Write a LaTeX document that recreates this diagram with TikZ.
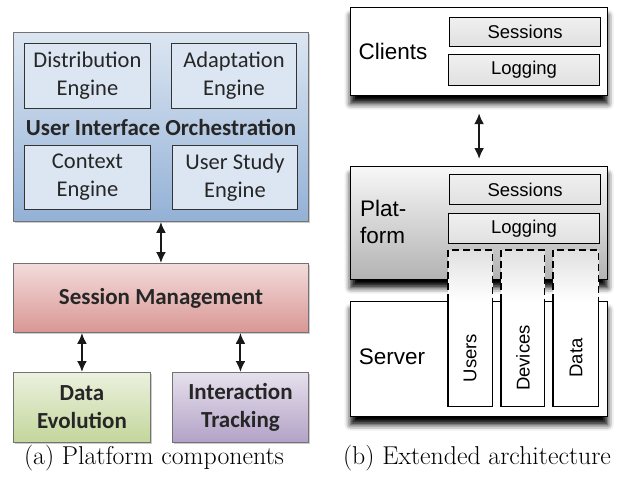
\documentclass[tikz,border=0pt]{standalone}
\usepackage{fontspec}
\newfontfamily\calfont{Carlito}
\newfontfamily\arialfont{Liberation Sans}
\usetikzlibrary{shadows,shadows.blur,arrows.meta}
\definecolor{blueTop}{HTML}{DCE6F2}
\definecolor{blueBot}{HTML}{93B1D6}
\definecolor{engFill}{HTML}{DCE6F2}
\definecolor{redTop}{HTML}{F2DCDB}
\definecolor{redBot}{HTML}{D99694}
\definecolor{greenTop}{HTML}{EBF1DE}
\definecolor{greenBot}{HTML}{C3D69B}
\definecolor{purpTop}{HTML}{E6E0EC}
\definecolor{purpBot}{HTML}{B3A2C7}
\tikzset{
  dbl/.style={{Latex[length=11pt,width=10pt]}-{Latex[length=11pt,width=10pt]}, line width=2pt, black!90},
  lbox/.style={draw=black!55, line width=0.9pt, anchor=north west, inner sep=0pt, align=center,
    drop shadow={shadow xshift=1.5pt, shadow yshift=-1.5pt, opacity=0.4},
    font=\calfont\bfseries\fontsize{23}{28}\selectfont, text=black!85},
  eng/.style={draw=black!80, line width=0.9pt, fill=engFill, anchor=north west, inner sep=0pt,
    align=center, font=\calfont\fontsize{22.5}{28}\selectfont, text=black!85},
  rbox/.style={draw=black, line width=1.2pt, fill=white, anchor=north west, inner sep=0pt,
    blur shadow={shadow xshift=0pt, shadow yshift=-8pt, shadow blur radius=6pt, shadow opacity=100}},
  sbox/.style={draw=black, line width=1.1pt, top color=black!6, bottom color=black!12, anchor=north west,
    inner sep=0pt, font=\arialfont\fontsize{18.5}{22}\selectfont},
  rlabel/.style={font=\arialfont\fontsize{22.5}{27}\selectfont, inner sep=0pt},
  collabel/.style={font=\arialfont\fontsize{18.5}{22}\selectfont, rotate=90, inner sep=0pt},
  colbox/.style={fill=white, draw=none, anchor=north west, inner sep=0pt, minimum height=156pt},
  captext/.style={font=\fontsize{25.8}{30}\selectfont, inner sep=0pt}
}
\begin{document}
\begin{tikzpicture}[x=1pt,y=-1pt]
\useasboundingbox (0,0) rectangle (619,483);
% ---------- left panel ----------
\node[lbox, top color=blueTop, bottom color=blueBot, minimum width=295pt, minimum height=189pt] (uio) at (13,32) {};
\node[eng, minimum width=126pt, minimum height=65pt] (dist) at (24,43) {Distribution\\Engine};
\node[eng, minimum width=125pt, minimum height=65pt] (adapt) at (171,43) {Adaptation\\Engine};
\node[eng, minimum width=126pt, minimum height=64pt] (ctx) at (24,145) {Context\\Engine};
\node[eng, minimum width=125pt, minimum height=64pt] (ust) at (172,145) {User Study\\Engine};
\node[font=\calfont\bfseries\fontsize{23}{26}\selectfont, text=black!85, inner sep=0pt] (uiot) at (161,127) {User Interface Orchestration};
\node[lbox, top color=redTop, bottom color=redBot, minimum width=295pt, minimum height=69pt] (sm) at (13,263) {Session Management};
\node[lbox, top color=greenTop, bottom color=greenBot, minimum width=137pt, minimum height=70pt] (de) at (13,372) {Data\\Evolution};
\node[lbox, top color=purpTop, bottom color=purpBot, minimum width=136pt, minimum height=70pt] (it) at (172,372) {Interaction\\Tracking};
\draw[dbl] (uio.south) -- (sm.north);
\draw[dbl] (sm.south -| de.north) -- (de.north);
\draw[dbl] (sm.south -| it.north) -- (it.north);
\node[captext] (capa) at (154,458) {(a) Platform components};
% ---------- right panel ----------
\node[rbox, minimum width=257pt, minimum height=88pt] (clients) at (350,7) {};
\node[sbox, minimum width=151pt, minimum height=29pt] (sess1) at (449,17) {Sessions};
\node[sbox, minimum width=151pt, minimum height=31pt] (log1) at (448,54) {Logging};
\node[rlabel] (clt) at (393,51) {Clients};
\node[rbox, minimum width=257pt, minimum height=115pt] (server) at (350,301) {};
\node[rbox, top color=black!3, bottom color=black!30, minimum width=257pt, minimum height=113pt] (plat) at (350,166) {};
\node[sbox, minimum width=151pt, minimum height=30pt] (sess2) at (449,174) {Sessions};
\node[sbox, minimum width=151pt, minimum height=30pt] (log2) at (448,213) {Logging};
\node[rlabel, align=left, anchor=west] (platt) at (360,222) {Plat-\\form};
\node[rlabel] (servt) at (392,357) {Server};
\draw[dbl] ([yshift=-17pt]clients.south) -- ([yshift=7pt]plat.north);
% columns
\foreach \n/\x/\w in {users/448/44, devices/501/43, data/553/45}{
  \node[colbox, minimum width=\w pt] (\n) at (\x,250) {};
  \shade[top color=black!12, bottom color=white] (\n.north west) rectangle (\n.east |- server.north);
  \draw[line width=1.8pt, dash pattern=on 7pt off 4pt] (\n.west |- server.north) -- (\n.north west) -- (\n.north east) -- (\n.east |- server.north);
  \draw[line width=1.2pt] (\n.west |- server.north) -- (\n.south west) -- (\n.south east) -- (\n.east |- server.north);
}
\node[collabel] (usert) at (470,358) {Users};
\node[collabel] (devt) at (523,358) {Devices};
\node[collabel] (datat) at (576,358) {Data};
\node[captext] (capb) at (477,458) {(b) Extended architecture};
\end{tikzpicture}
\end{document}
